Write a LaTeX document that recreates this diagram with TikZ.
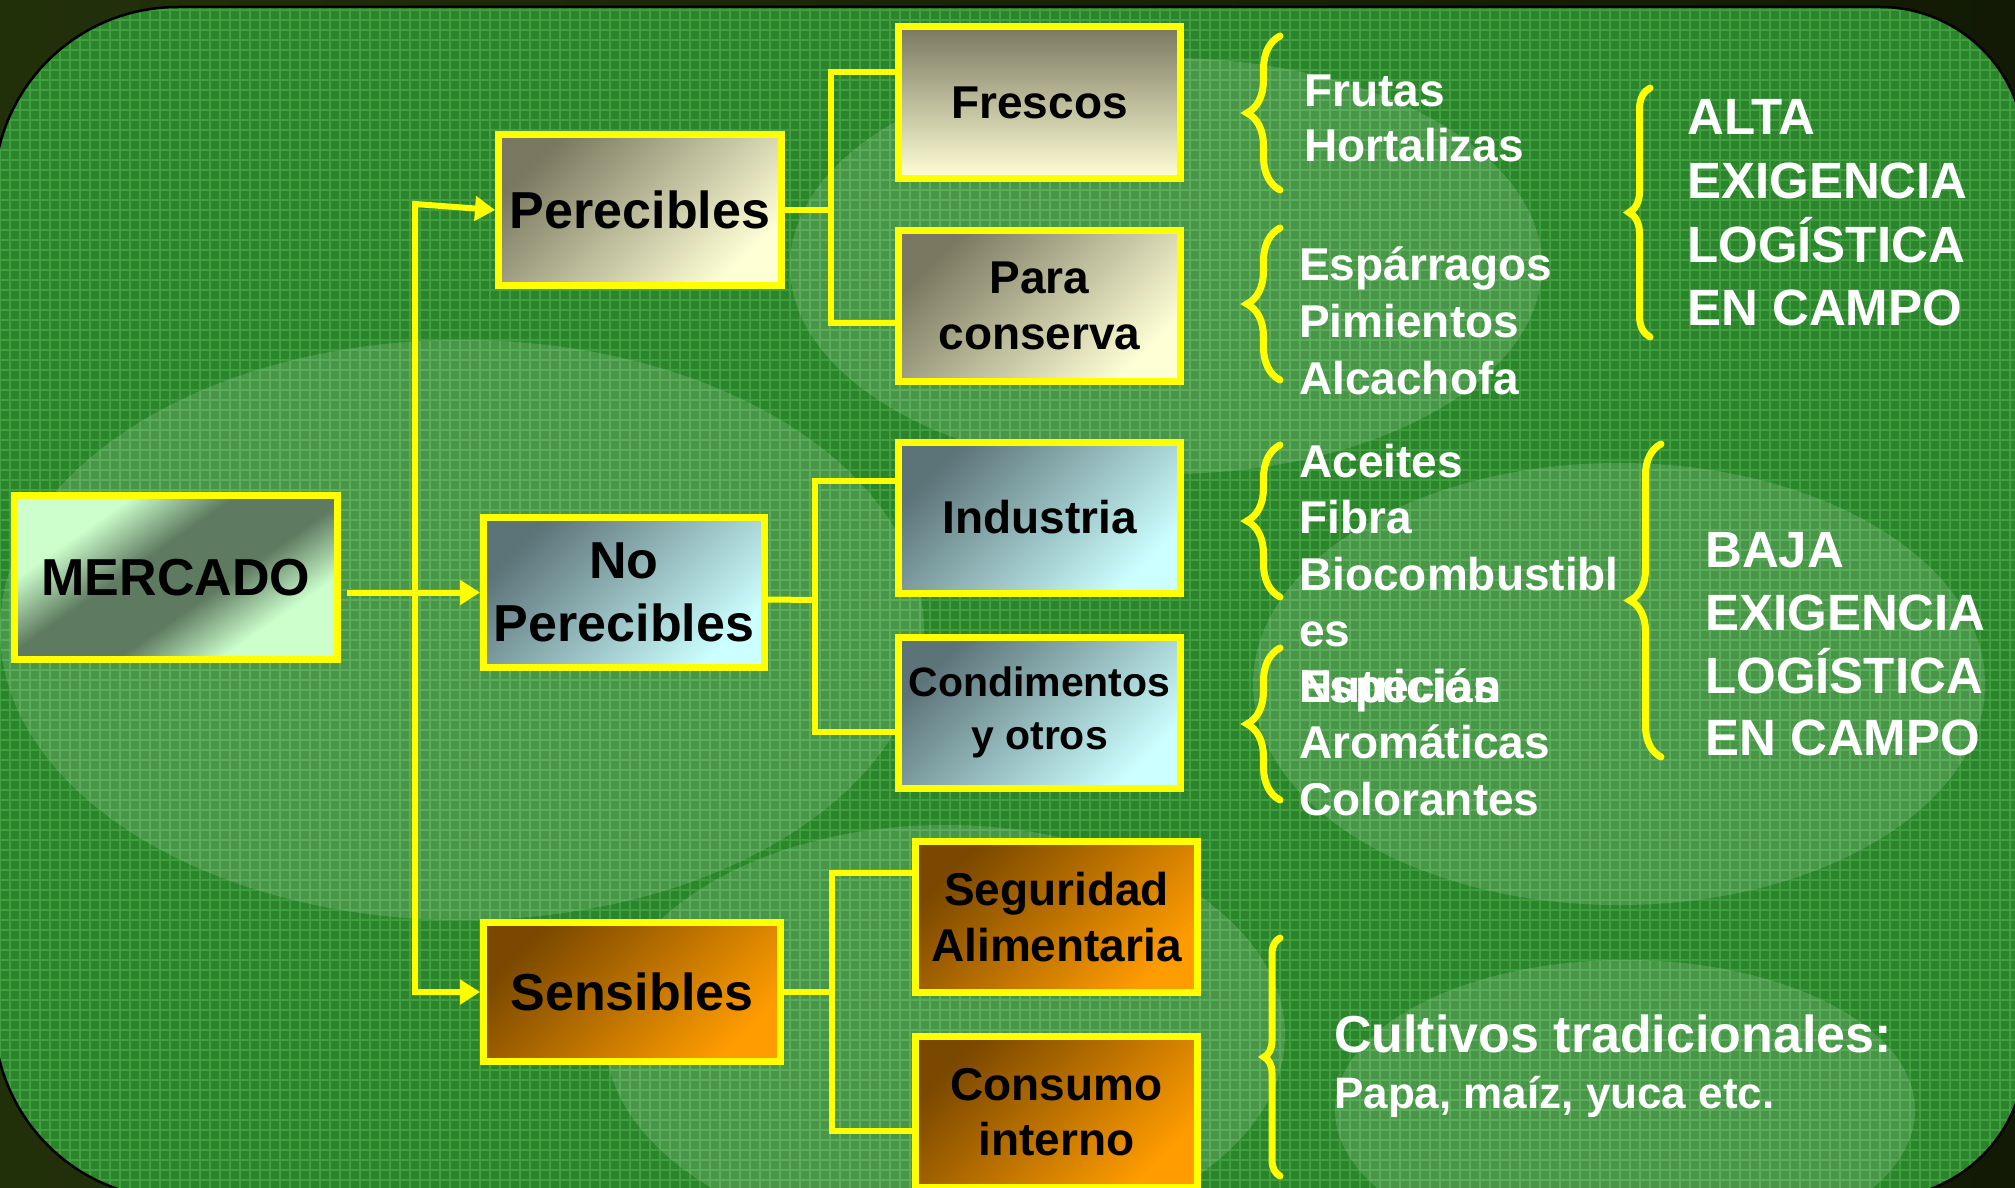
\documentclass[tikz,border=0pt]{standalone}
\usepackage{fontspec}
\setmainfont{Liberation Sans}
\usetikzlibrary{arrows.meta,decorations.pathreplacing}

\definecolor{hlyellow}{HTML}{FFFF00}
\definecolor{leaf}{HTML}{2C852C}
\definecolor{leafgrid}{HTML}{40A040}
\definecolor{mint}{HTML}{CCFFCC}
\definecolor{mintdark}{HTML}{5E7A60}
\definecolor{olive}{HTML}{7A7860}
\definecolor{cream}{HTML}{FFFFD6}
\definecolor{slate}{HTML}{5C7378}
\definecolor{ice}{HTML}{CCFFFF}
\definecolor{umber}{HTML}{7A4800}
\definecolor{amber}{HTML}{FF9C00}
\definecolor{moss}{HTML}{22300A}
\definecolor{mossmid}{HTML}{3C4C08}
\definecolor{mossdark}{HTML}{121A05}

\pgfdeclareverticalshading{mintband}{100bp}{color(0bp)=(mint); color(30bp)=(mint);
  color(43bp)=(mintdark); color(57bp)=(mintdark); color(70bp)=(mint); color(100bp)=(mint)}

\tikzset{
  box/.style={draw=hlyellow, line width=7pt, minimum width=282pt, minimum height=151pt,
    align=center, text=black, inner sep=2pt, font=\bfseries\fontsize{46}{55.5}\selectfont},
  bigbox/.style={box, font=\bfseries\fontsize{52}{63}\selectfont},
  fillmint/.style={shading=mintband, shading angle=35},
  fillcream/.style={shading=axis, top color=olive, bottom color=cream, shading angle=45},
  fillcreamv/.style={shading=axis, top color=olive, bottom color=cream},
  fillice/.style={shading=axis, top color=slate, bottom color=ice, shading angle=45},
  fillamber/.style={shading=axis, top color=umber, bottom color=amber, shading angle=45},
  link/.style={draw=hlyellow, line width=6pt},
  tip/.tip={Triangle[length=20pt,width=24pt]},
  item/.style={text=white, anchor=base west, inner sep=0pt, font=\bfseries\fontsize{46}{55}\selectfont},
  banner/.style={item, font=\bfseries\fontsize{51}{63}\selectfont},
  curly/.style={draw=hlyellow, line width=7pt, line cap=round, decorate},
  water/.style={fill=white, fill opacity=0.14}
}

\begin{document}
\begin{tikzpicture}[x=1pt,y=-1pt]
  \useasboundingbox (0,0) rectangle (2015,1188);
  % backdrop
  \fill[left color=moss, middle color=mossmid, right color=mossdark]
    (0,0) rectangle (2015,1188);
  \begin{scope}
    \clip (-6,191) .. controls (-6,89) and (76,7) .. (178,7) -- (1880,7)
      .. controls (1960,7) and (2025,72) .. (2025,152) -- (2025,1053)
      .. controls (2025,1133) and (1960,1198) .. (1880,1198) -- (178,1199)
      .. controls (76,1199) and (-6,1117) .. (-6,1015) -- cycle;
    \fill[leaf] (-10,0) rectangle (2030,1200);
    \draw[leafgrid, line width=1.5pt, step=10pt] (-10,0) grid (2030,1200);
    \fill[water] (1166,266) ellipse [x radius=376pt, y radius=208pt];
    \fill[water] (462,630) ellipse [x radius=462pt, y radius=290pt];
    \fill[water] (1619,684) ellipse [x radius=366pt, y radius=221pt];
    \fill[water] (945,1035) ellipse [x radius=340pt, y radius=210pt];
    \fill[water] (1625,1110) ellipse [x radius=290pt, y radius=150pt];
  \end{scope}
  \draw[black, line width=2.5pt] (-6,191) .. controls (-6,89) and (76,7) .. (178,7) -- (1880,7)
      .. controls (1960,7) and (2025,72) .. (2025,152) -- (2025,1053)
      .. controls (2025,1133) and (1960,1198) .. (1880,1198) -- (178,1199)
      .. controls (76,1199) and (-6,1117) .. (-6,1015) -- cycle;

  % boxes
  \node[bigbox, fillmint, minimum width=323pt, minimum height=164pt] (mercado) at (176,577.5) {MERCADO};
  \node[bigbox, fillcream, minimum width=283pt, minimum height=150pt] (perec) at (640,210) {Perecibles};
  \node[bigbox, fillice, minimum width=281pt, minimum height=150pt] (noperec) at (624,592.5) {No\\Perecibles};
  \node[bigbox, fillamber, minimum width=297pt, minimum height=139pt] (sensib) at (632,992) {Sensibles};
  \node[box, fillcreamv] (fresc) at (1039.5,102.5) {Frescos};
  \node[box, fillcream] (conserva) at (1039.5,306) {Para\\conserva};
  \node[box, fillice] (indus) at (1039.5,517.5) {Industria};
  \node[box, fillice, font=\bfseries\fontsize{41}{53}\selectfont] (condim) at (1039.5,712.5) {Condimentos\\y otros};
  \node[box, fillamber] (segur) at (1056.5,917) {Seguridad\\Alimentaria};
  \node[box, fillamber] (consumo) at (1056.5,1112) {Consumo\\interno};

  % connectors
  \coordinate (ttop) at (415,204);
  \coordinate (tbot) at (415,992);
  \coordinate (j1) at (831,210);
  \coordinate (j2) at (815,600);
  \coordinate (j3) at (832,992);
  \begin{scope}[link]
    \draw[tip-tip] (perec.west) -- (ttop) -- (tbot) -- (sensib.west);
    \draw[-tip] ([xshift=6pt]mercado.east |- noperec.west) -- (noperec.west);
    \draw (perec.east) -- (j1);
    \draw ([yshift=30pt]fresc.west) -| (j1) |- ([yshift=-17pt]conserva.west);
    \draw ([yshift=-7pt]noperec.east) -- (j2);
    \draw ([yshift=37pt]indus.west) -| (j2) |- ([yshift=-19pt]condim.west);
    \draw (sensib.east) -- (j3);
    \draw ([yshift=44pt]segur.west) -| (j3) |- ([yshift=-19pt]consumo.west);
  \end{scope}

  % braces
  \draw[curly, decoration={brace, amplitude=33pt}] (1280,190) -- (1280,36);
  \draw[curly, decoration={brace, amplitude=33pt}] (1280,380) -- (1280,228);
  \draw[curly, decoration={brace, amplitude=33pt}] (1280,597) -- (1280,445);
  \draw[curly, decoration={brace, amplitude=33pt}] (1280,800) -- (1280,648);
  \draw[curly, decoration={brace, amplitude=16pt}] (1280,1176) -- (1280,938);
  \draw[curly, decoration={brace, amplitude=21pt}] (1650,337) -- (1650,88);
  \draw[curly, decoration={brace, amplitude=31pt}] (1661,757) -- (1661,444);

  % lists
  \node[item] (frutas) at (1304,106.5) {Frutas};
  \node[item] (hortal) at (1304,161.5) {Hortalizas};
  \node[item] (espar) at (1299,280) {Espárragos};
  \node[item] (pimien) at (1299,337) {Pimientos};
  \node[item] (alcach) at (1299,394) {Alcachofa};
  \node[item] (aceite) at (1299,477) {Aceites};
  \node[item] (fibra) at (1299,533.5) {Fibra};
  \node[item] (biocom) at (1299,590) {Biocombustibl};
  \node[item] (biocom2) at (1299,646.5) {es};
  \node[item] (especi) at (1299,702) {Especias};
  \node[item] (nutri) at (1299,702) {Nutrición};
  \node[item] (aroma) at (1299,758.5) {Aromáticas};
  \node[item] (color) at (1299,815) {Colorantes};

  \node[banner] (alta1) at (1687,135) {ALTA};
  \node[banner] (alta2) at (1687,198) {EXIGENCIA};
  \node[banner] (alta3) at (1687,262) {LOGÍSTICA};
  \node[banner] (alta4) at (1687,325) {EN CAMPO};
  \node[banner] (baja1) at (1705,567) {BAJA};
  \node[banner] (baja2) at (1705,630) {EXIGENCIA};
  \node[banner] (baja3) at (1705,693) {LOGÍSTICA};
  \node[banner] (baja4) at (1705,755) {EN CAMPO};

  \node[item, font=\bfseries\fontsize{52}{60}\selectfont] (cultiv) at (1334,1052) {Cultivos tradicionales:};
  \node[item, font=\bfseries\fontsize{44}{52}\selectfont] (papa) at (1334,1108) {Papa, maíz, yuca etc.};
\end{tikzpicture}
\end{document}
